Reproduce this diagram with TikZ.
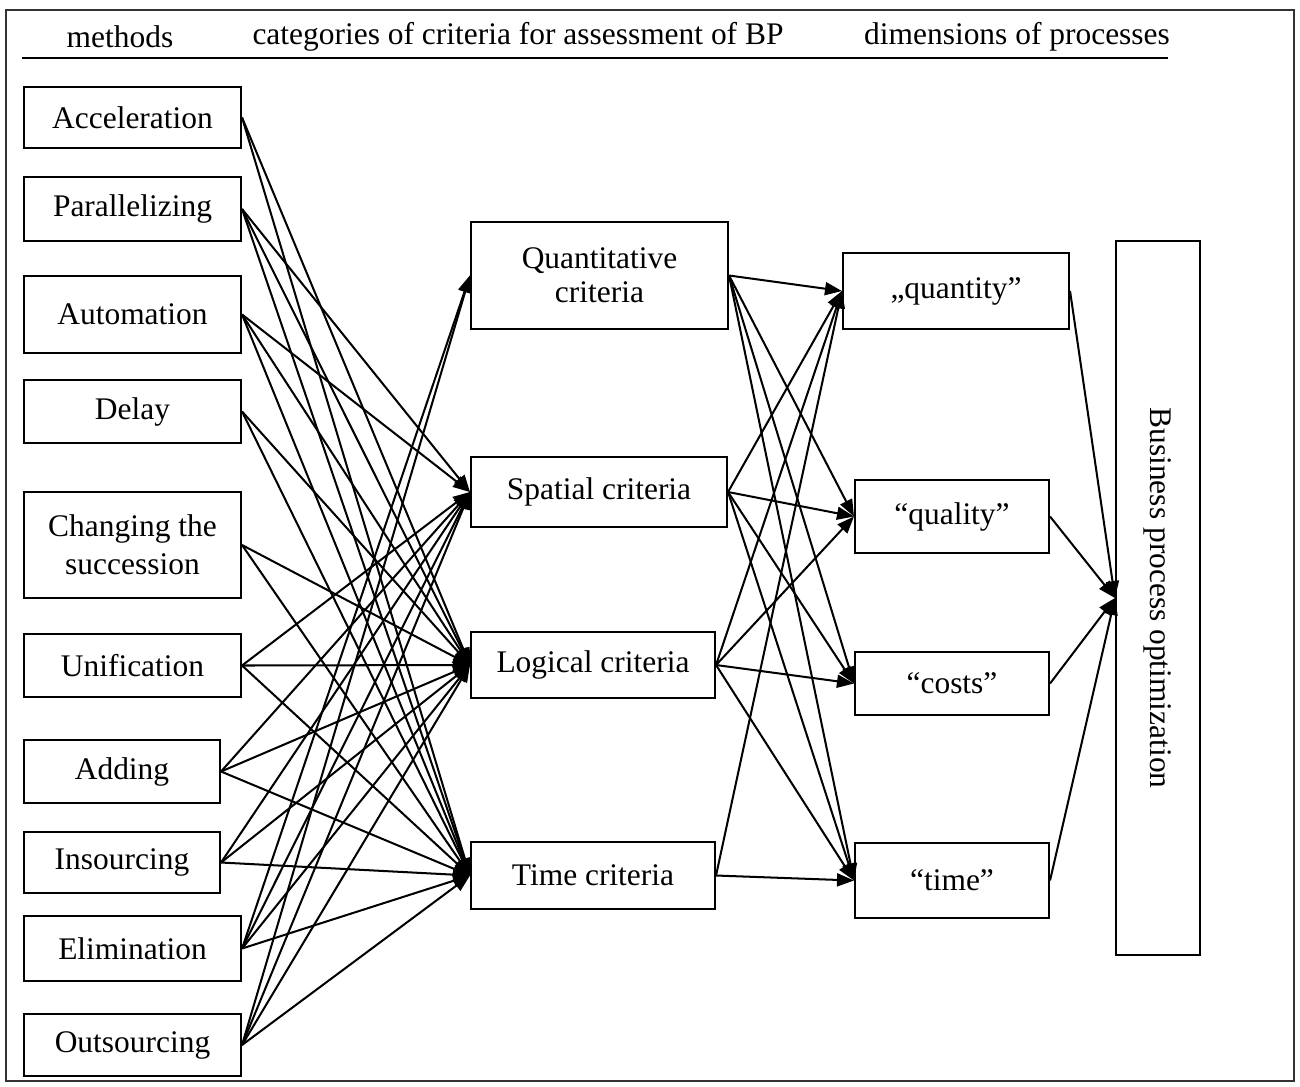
\documentclass[tikz,border=0pt]{standalone}
\usepackage{fontspec}
\setmainfont{Liberation Serif}
\usetikzlibrary{arrows.meta}

\tikzset{
  box/.style={draw, line width=1.2pt, align=center, inner sep=0pt},
  arr/.style={-{Triangle[length=3.4mm,width=2.6mm]}, line width=1.15pt},
}

\begin{document}
\begin{tikzpicture}[x=0.02cm, y=-0.02cm, font=\fontsize{17.9}{21.5}\selectfont]
    \useasboundingbox (0,0) rectangle (1300,1086);
    \draw[line width=1.1pt, black!80] (6,10) rectangle (1294,1081);

    % Header
    \node (hmeth) at (120,37) {methods};
    \node (hcrit) at (518,37) {categories of criteria for assessment of BP};
    \node (hdim) at (1017,37) {dimensions of processes};
    \coordinate (hl) at (22,58);
    \coordinate (hr) at (1168,58);
    \draw[line width=1.6pt] (hl) -- (hr);

    % Methods
    \node[box, minimum width=4.34cm, minimum height=1.22cm] (acc) at (132.5,117.5) {Acceleration};
    \node[box, minimum width=4.34cm, minimum height=1.28cm] (par) at (132.5,209) {Parallelizing};
    \node[box, minimum width=4.34cm, minimum height=1.54cm] (aut) at (132.5,314.5) {Automation};
    \node[box, minimum width=4.34cm, minimum height=1.26cm] (del) at (132.5,411.5) {Delay};
    \node[box, minimum width=4.34cm, minimum height=2.12cm] (chg) at (132.5,545) {Changing the\\succession};
    \node[box, minimum width=4.34cm, minimum height=1.26cm] (uni) at (132.5,665.5) {Unification};
    \node[box, minimum width=3.92cm, minimum height=1.26cm] (add) at (122,771.5) {Adding};
    \node[box, minimum width=3.92cm, minimum height=1.22cm] (ins) at (122,862.5) {Insourcing};
    \node[box, minimum width=4.34cm, minimum height=1.30cm] (eli) at (132.5,948.5) {Elimination};
    \node[box, minimum width=4.34cm, minimum height=1.24cm] (out) at (132.5,1045) {Outsourcing};

    % Criteria
    \node[box, minimum width=5.14cm, minimum height=2.14cm] (qc) at (599.5,275.5) {Quantitative\\[-2pt]criteria};
    \node[box, minimum width=5.12cm, minimum height=1.40cm] (sc) at (599,492) {Spatial criteria};
    \node[box, minimum width=4.88cm, minimum height=1.32cm] (lc) at (593,665) {Logical criteria};
    \node[box, minimum width=4.88cm, minimum height=1.34cm] (tc) at (593,875.5) {Time criteria};

    % Dimensions
    \node[box, minimum width=4.52cm, minimum height=1.52cm] (qty) at (956,291) {„quantity”};
    \node[box, minimum width=3.88cm, minimum height=1.46cm] (qly) at (952,516.5) {“quality”};
    \node[box, minimum width=3.88cm, minimum height=1.26cm] (cst) at (952,683.5) {“costs”};
    \node[box, minimum width=3.88cm, minimum height=1.50cm] (tme) at (952,880.5) {“time”};

    % Result
    \node[box, rotate=-90, minimum width=14.28cm, minimum height=1.68cm] (bpo) at (1158,598) {Business process optimization};

    % Methods to criteria
    \draw[arr] (acc.east) -- (lc.west);
    \draw[arr] (acc.east) -- (tc.west);
    \draw[arr] (par.east) -- (sc.west);
    \draw[arr] (par.east) -- (lc.west);
    \draw[arr] (par.east) -- (tc.west);
    \draw[arr] (aut.east) -- (sc.west);
    \draw[arr] (aut.east) -- (lc.west);
    \draw[arr] (aut.east) -- (tc.west);
    \draw[arr] (del.east) -- (lc.west);
    \draw[arr] (del.east) -- (tc.west);
    \draw[arr] (chg.east) -- (lc.west);
    \draw[arr] (chg.east) -- (tc.west);
    \draw[arr] (uni.east) -- (sc.west);
    \draw[arr] (uni.east) -- (lc.west);
    \draw[arr] (uni.east) -- (tc.west);
    \draw[arr] (add.east) -- (sc.west);
    \draw[arr] (add.east) -- (lc.west);
    \draw[arr] (add.east) -- (tc.west);
    \draw[arr] (ins.east) -- (sc.west);
    \draw[arr] (ins.east) -- (lc.west);
    \draw[arr] (ins.east) -- (tc.west);
    \draw[arr] (eli.east) -- (qc.west);
    \draw[arr] (eli.east) -- (sc.west);
    \draw[arr] (eli.east) -- (lc.west);
    \draw[arr] (eli.east) -- (tc.west);
    \draw[arr] (out.east) -- (qc.west);
    \draw[arr] (out.east) -- (sc.west);
    \draw[arr] (out.east) -- (lc.west);
    \draw[arr] (out.east) -- (tc.west);

    % Criteria to dimensions
    \draw[arr] (qc.east) -- (qty.west);
    \draw[arr] (qc.east) -- (qly.west);
    \draw[arr] (qc.east) -- (cst.west);
    \draw[arr] (qc.east) -- (tme.west);
    \draw[arr] (sc.east) -- (qty.west);
    \draw[arr] (sc.east) -- (qly.west);
    \draw[arr] (sc.east) -- (cst.west);
    \draw[arr] (sc.east) -- (tme.west);
    \draw[arr] (lc.east) -- (qty.west);
    \draw[arr] (lc.east) -- (qly.west);
    \draw[arr] (lc.east) -- (cst.west);
    \draw[arr] (lc.east) -- (tme.west);
    \draw[arr] (tc.east) -- (qty.west);
    \draw[arr] (tc.east) -- (tme.west);

    % Dimensions to result
    \draw[arr] (qty.east) -- (bpo.south);
    \draw[arr] (qly.east) -- (bpo.south);
    \draw[arr] (cst.east) -- (bpo.south);
    \draw[arr] (tme.east) -- (bpo.south);
\end{tikzpicture}
\end{document}
